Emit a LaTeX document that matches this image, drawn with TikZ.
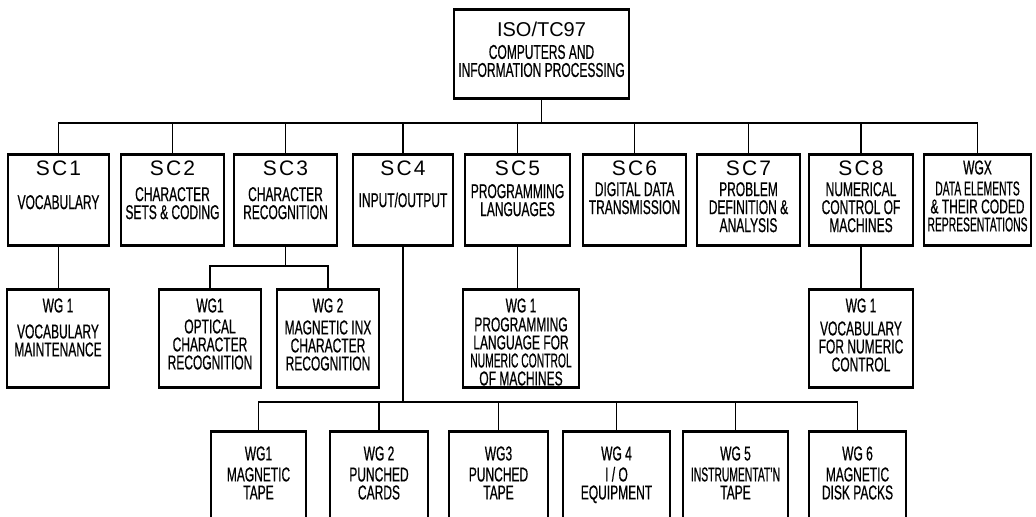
\documentclass[tikz,border=0pt]{standalone}
\usepackage{fontspec}
\setmainfont{Liberation Sans}[FakeStretch=0.6, FakeBold=0.6]
\newfontfamily\ttl{Liberation Sans}[LetterSpace=10]
\newfontfamily\ttlb{Liberation Sans}
\usepackage{graphicx}
\usetikzlibrary{positioning}

\newcommand{\hd}[1]{{\ttl\fontsize{10.5}{9}\selectfont #1}}
\newcommand{\sq}[1]{\scalebox{0.86}[1]{#1}}

\tikzset{
  box/.style={draw, line width=1.3pt, inner sep=0pt, anchor=north},
  txt/.style={align=center, inner sep=0pt, font=\fontsize{10}{9}\selectfont},
  link/.style={line width=0.7pt},
}

\begin{document}
\begin{tikzpicture}[x=0.5pt, y=-0.5pt]
    \useasboundingbox (0,0) rectangle (1036,516);
    \clip (0,0) rectangle (1036,516);
    % technical committee
    \node[box, minimum width=87.5pt, minimum height=44.5pt] (iso) at (541.5,8) {};
    \node[txt, below=7pt of iso.north] (isot) {{\ttlb\fontsize{10}{9}\selectfont ISO/TC97}\\[2pt]COMPUTERS AND\\INFORMATION PROCESSING};
    % sub-committees
    \foreach \nm/\cx/\bw/\lbl in {
        sc1/58.5/50.5/{\hd{SC1}\\[8pt]VOCABULARY},
        sc2/172.5/51.5/{\hd{SC2}\\[4pt]CHARACTER\\SETS \& CODING},
        sc3/285.5/51.5/{\hd{SC3}\\[4pt]CHARACTER\\RECOGNITION},
        sc4/403/50/{\hd{SC4}\\[7pt]INPUT/OUTPUT},
        sc5/517.5/52.5/{\hd{SC5}\\[2.5pt]PROGRAMMING\\LANGUAGES},
        sc6/634.5/51.5/{\hd{SC6}\\[1.5pt]DIGITAL DATA\\TRANSMISSION},
        sc7/748.5/51.5/{\hd{SC7}\\[1.5pt]PROBLEM\\DEFINITION \&\\ANALYSIS},
        sc8/861/52/{\hd{SC8}\\[1.5pt]NUMERICAL\\CONTROL OF\\MACHINES},
        wgx/977.5/53.5/{WGX\\[1.5pt]\sq{DATA ELEMENTS}\\\& THEIR CODED\\\sq{REPRESENTATIONS}}} {
        \node[box, minimum width=\bw pt, minimum height=45.5pt] (\nm) at (\cx,153) {};
        \node[txt, below=3.5pt of \nm.north] (\nm t) {\lbl};
    }
    % working groups under SC1, SC3, SC5, SC8
    \foreach \nm/\cx/\bw/\lbl in {
        wgv/58/51/{WG 1\\[4pt]VOCABULARY\\MAINTENANCE},
        wgo/210/51/{WG1\\[1.5pt]OPTICAL\\CHARACTER\\RECOGNITION},
        wgm/328/51/{WG 2\\[2pt]MAGNETIC INX\\CHARACTER\\RECOGNITION},
        wgp/521/58/{WG 1\\[0.5pt]PROGRAMMING\\LANGUAGE FOR\\\sq{NUMERIC CONTROL}\\OF MACHINES},
        wgn/861/52/{WG 1\\[2.5pt]VOCABULARY\\FOR NUMERIC\\CONTROL}} {
        \node[box, minimum width=\bw pt, minimum height=49pt] (\nm) at (\cx,288) {};
        \node[txt, below=5pt of \nm.north] (\nm t) {\lbl};
    }
    % working groups under SC4
    \foreach \nm/\cx/\bw/\lbl in {
        wgt/258.5/47.5/{WG1\\[1.5pt]MAGNETIC\\TAPE},
        wgc/379/49/{WG 2\\[1.5pt]PUNCHED\\CARDS},
        wgpt/498.5/49.5/{WG3\\[1.5pt]PUNCHED\\TAPE},
        wgio/616.5/53.5/{WG 4\\[1.5pt]I / O\\EQUIPMENT},
        wgi/735.5/52.5/{WG 5\\[1.5pt]\sq{INSTRUMENTAT’N}\\TAPE},
        wgd/857.5/48.5/{WG 6\\[1.5pt]MAGNETIC\\DISK PACKS}} {
        \node[box, minimum width=\bw pt, minimum height=55pt] (\nm) at (\cx,430) {};
        \node[txt, below=8pt of \nm.north] (\nm t) {\lbl};
    }
    % connectors
    \coordinate (bus) at (0,123);
    \coordinate (bus3) at (0,266);
    \coordinate (bus4) at (0,402);
    \draw[link] (iso.south) -- (iso.south |- bus);
    \draw[link] (sc1.north) |- (wgx.north |- bus) -- (wgx.north);
    \foreach \nm in {sc2,sc3,sc4,sc5,sc6,sc7,sc8}
        \draw[link] (\nm.north) -- (\nm.north |- bus);
    \draw[link] (sc1.south) -- (sc1.south |- wgv.north);
    \draw[link] (sc3.south) -- (sc3.south |- bus3);
    \draw[link] (wgo.north) |- (wgm.north |- bus3) -- (wgm.north);
    \draw[link] (sc5.south) -- (sc5.south |- wgp.north);
    \draw[link] (sc8.south) -- (sc8.south |- wgn.north);
    \draw[link] (sc4.south) -- (sc4.south |- bus4);
    \draw[link] (wgt.north) |- (wgd.north |- bus4) -- (wgd.north);
    \foreach \nm in {wgc,wgpt,wgio,wgi}
        \draw[link] (\nm.north) -- (\nm.north |- bus4);
\end{tikzpicture}
\end{document}
